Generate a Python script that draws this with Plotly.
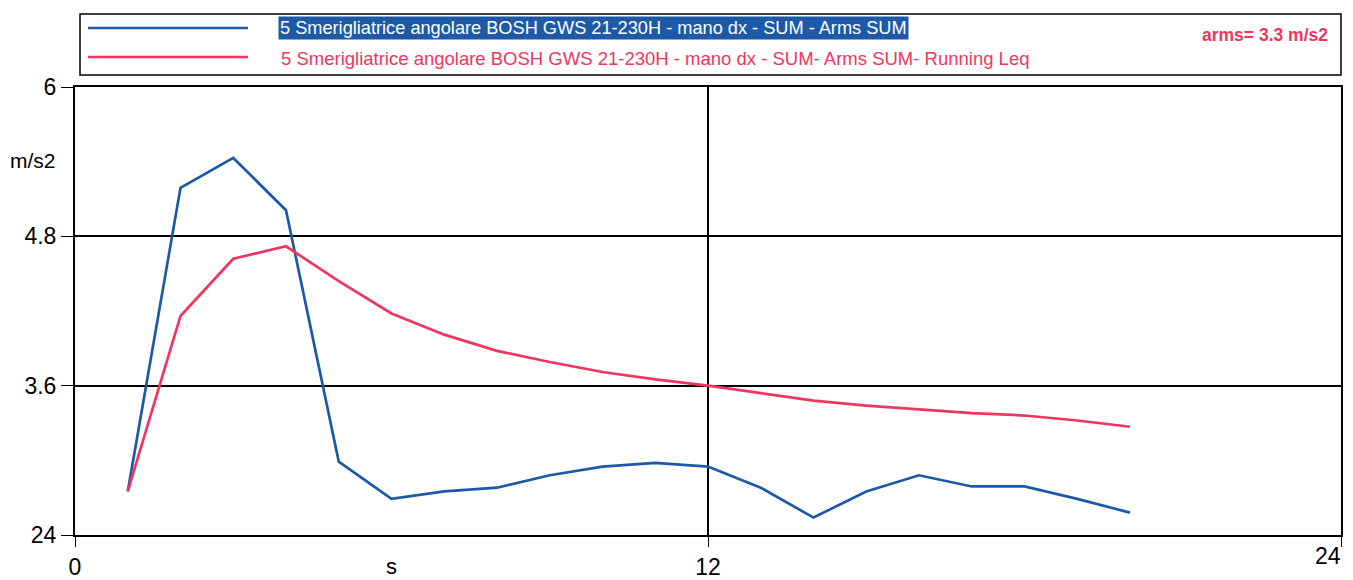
import plotly.graph_objects as go

# ---- data ----
time_s = list(range(1, 21))
arms_sum = [2.75, 5.19, 5.43, 5.01, 2.99, 2.69, 2.75, 2.78, 2.88, 2.95,
            2.98, 2.95, 2.78, 2.54, 2.75, 2.88, 2.79, 2.79, 2.69, 2.58]
running_leq = [2.75, 4.16, 4.62, 4.72, 4.44, 4.18, 4.01, 3.88, 3.79, 3.71,
               3.65, 3.60, 3.54, 3.48, 3.44, 3.41, 3.38, 3.36, 3.32, 3.27]
y_tickvals = [2.4, 3.6, 4.8, 6.0]
y_ticktext = ["24", "3.6", "4.8", "6"]
x_tickvals = [0, 12, 24]
x_ticktext = ["0", "12", "24"]
name_blue = "5 Smerigliatrice angolare BOSH GWS 21-230H - mano dx - SUM - Arms SUM"
name_red = "5 Smerigliatrice angolare BOSH GWS 21-230H - mano dx - SUM- Arms SUM- Running Leq"
arms_text = "arms= 3.3 m/s2"

BLUE = "#1c5aa8"
RED = "#f0365e"
FONT = "Liberation Sans Narrow, Liberation Sans, Arial, sans-serif"

OFF = 8  # page body margin
W, H = 1353 - OFF, 580 - OFF
L, R, T, B = 75 - OFF, 12, 87 - OFF, 45
PW, PH = W - L - R, H - T - B


def px(x):
    return (x - OFF - L) / PW


def py(y):
    return (H - B - (y - OFF)) / PH


fig = go.Figure()
fig.add_trace(go.Scatter(x=time_s, y=arms_sum, mode="lines", name=name_blue,
                         line=dict(color=BLUE, width=2.7), showlegend=False))
fig.add_trace(go.Scatter(x=time_s, y=running_leq, mode="lines", name=name_red,
                         line=dict(color=RED, width=2.7), showlegend=False,
                         xaxis="x2"))

shapes = [
    # legend box
    dict(type="rect", xref="paper", yref="paper", x0=px(80), x1=px(1341),
         y0=py(75), y1=py(14), line=dict(color="black", width=1.5), fillcolor="white"),
    dict(type="line", xref="paper", yref="paper", x0=px(88), x1=px(248),
         y0=py(28), y1=py(28), line=dict(color=BLUE, width=2.5)),
    dict(type="line", xref="paper", yref="paper", x0=px(88), x1=px(248),
         y0=py(57), y1=py(57), line=dict(color=RED, width=2.5)),
]

annotations = [
    dict(text=name_blue, xref="paper", yref="paper", x=px(278), y=py(28),
         xanchor="left", yanchor="middle", showarrow=False,
         font=dict(family=FONT, size=18.2, color="white"), bgcolor=BLUE,
         borderpad=1),
    dict(text=name_red, xref="paper", yref="paper", x=px(279), y=py(58),
         xanchor="left", yanchor="middle", showarrow=False,
         font=dict(family=FONT, size=18.5, color=RED)),
    dict(text="<b>" + arms_text + "</b>", xref="paper", yref="paper", x=px(1330), y=py(35),
         xanchor="right", yanchor="middle", showarrow=False,
         font=dict(family=FONT, size=17.5, color=RED)),
    dict(text="m/s2", xref="paper", yref="paper", x=px(8), y=py(160),
         xanchor="left", yanchor="middle", showarrow=False,
         font=dict(family=FONT, size=21, color="black")),
    dict(text="s", xref="paper", yref="paper", x=px(391), y=py(566),
         xanchor="center", yanchor="middle", showarrow=False,
         font=dict(family=FONT, size=22, color="black")),
]

tick_font = dict(family=FONT, size=23, color="black")
fig.update_layout(
    width=W, height=H,
    margin=dict(l=L, r=R, t=T, b=B),
    paper_bgcolor="white", plot_bgcolor="white",
    shapes=shapes, annotations=annotations,
    font=dict(family=FONT, color="black"),
    xaxis=dict(range=[0, 24], tickvals=x_tickvals, ticktext=x_ticktext[:-1] + [""],
               automargin=False,
               showgrid=True, gridcolor="black", gridwidth=2,
               showline=True, linecolor="black", linewidth=2, mirror=True,
               ticks="outside", ticklen=10, tickcolor="black",
               tickfont=tick_font, zeroline=False),
    # overlay axis that carries the last label, right-aligned to its tick
    xaxis2=dict(range=[0, 24], overlaying="x", side="bottom", anchor="y",
                tickvals=x_tickvals[-1:], ticktext=x_ticktext[-1:],
                ticklabelposition="outside left", automargin=False,
                showgrid=False, showline=False, ticks="outside", ticklen=14,
                tickcolor="rgba(0,0,0,0)",
                tickfont=tick_font, zeroline=False),
    yaxis=dict(range=[2.4, 6.0], tickvals=y_tickvals, ticktext=y_ticktext,
               automargin=False,
               showgrid=True, gridcolor="black", gridwidth=2,
               showline=True, linecolor="black", linewidth=2, mirror=True,
               ticks="outside", ticklen=12, tickcolor="black",
               tickfont=tick_font, zeroline=False),
)

fig.write_html("out.html")
